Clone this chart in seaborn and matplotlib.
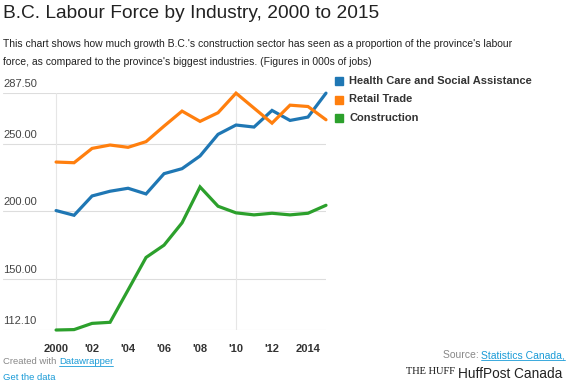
import numpy as np
import pandas as pd
import matplotlib
matplotlib.use("Agg")
import matplotlib.pyplot as plt
from matplotlib.patches import Rectangle
from matplotlib.lines import Line2D
import seaborn as sns

# Data (000s of jobs)
years = list(range(2000, 2016))
health_care = [200.5, 197.0, 211.3, 214.8, 217.0, 212.8, 227.8, 231.5,
               240.9, 256.9, 263.8, 262.3, 274.6, 267.2, 269.7, 287.4]
retail_trade = [236.4, 235.9, 246.5, 249.0, 247.3, 251.5, 263.0, 274.1,
                266.5, 272.9, 287.4, 276.3, 265.2, 278.5, 277.5, 267.7]
construction = [112.1, 112.4, 117.0, 117.8, 141.7, 165.8, 174.9, 191.4,
                218.0, 203.7, 198.8, 197.3, 198.5, 197.3, 198.5, 204.4]

series_names = ["Health Care and Social Assistance", "Retail Trade", "Construction"]
series_colors = ["#1f77b4", "#ff7f0e", "#2ca02c"]
y_ticks = [112.1, 150, 200, 250, 287.5]
y_tick_labels = ["112.10", "150.00", "200.00", "250.00", "287.50"]
x_ticks = [2000, 2002, 2004, 2006, 2008, 2010, 2012, 2014]
x_tick_labels = ["2000", "'02", "'04", "'06", "'08", "'10", "'12", "2014"]

df = pd.DataFrame({
    "year": years * 3,
    "jobs": health_care + retail_trade + construction,
    "industry": [series_names[0]] * 16 + [series_names[1]] * 16 + [series_names[2]] * 16,
})

sns.set_style("white")
plt.rcParams["font.family"] = ["Liberation Sans", "DejaVu Sans"]

W, H = 570, 381
fig = plt.figure(figsize=(W / 100, H / 100), dpi=100)
ax = fig.add_axes([3 / W, 1 - 330 / H, (326 - 3) / W, (330 - 93) / H])

sns.lineplot(data=df, x="year", y="jobs", hue="industry", hue_order=series_names,
             palette=series_colors, linewidth=2.3, legend=False, ax=ax)
for ln in ax.get_lines():
    ln.set_clip_on(False)
    ln.set_solid_joinstyle("miter")

ax.set_xlim(2000 - 53 / 17.97, 2015)
ax.set_ylim(112.1, 287.5)

# grid
for v in y_ticks:
    ax.axhline(v, color="#dddddd", lw=0.8, zorder=0)
for v in [2000, 2010]:
    ax.axvline(v, color="#e6e6e6", lw=0.8, zorder=0)

for s in ax.spines.values():
    s.set_visible(False)
ax.set_yticks([])
ax.set_xticks(x_ticks)
ax.set_xticklabels(x_tick_labels, fontsize=8, fontweight="bold", color="#333333")
ax.tick_params(axis="x", length=0, pad=10)
ax.set_xlabel("")
ax.set_ylabel("")

trans = ax.get_yaxis_transform()
for v, lab in zip(y_ticks, y_tick_labels):
    ax.annotate(lab, (0, v), xycoords=trans, xytext=(0, 3), textcoords="offset points",
                ha="left", va="bottom", fontsize=8, color="#444444")

# legend
for i, (name, c) in enumerate(zip(series_names, series_colors)):
    yc = 81 + i * 18.5
    fig.add_artist(Rectangle((335 / W, 1 - (yc + 4) / H), 8 / W, 8 / H,
                             transform=fig.transFigure, color=c))
    fig.text(349 / W, 1 - yc / H, name, fontsize=8, fontweight="bold",
             color="#333333", va="center", ha="left")

# title and description
fig.text(3 / W, 1 - 13 / H, "B.C. Labour Force by Industry, 2000 to 2015",
         fontsize=13.8, color="#222222", va="center", ha="left")
fig.text(3 / W, 1 - 44 / H,
         "This chart shows how much growth B.C.'s construction sector has seen as a proportion of the province's labour",
         fontsize=7.5, color="#222222", va="center", ha="left")
fig.text(3 / W, 1 - 62 / H,
         "force, as compared to the province's biggest industries. (Figures in 000s of jobs)",
         fontsize=7.5, color="#222222", va="center", ha="left")

# footer
link = "#1a9bd7"
grey = "#888888"
t1 = fig.text(3 / W, 1 - 362 / H, "Created with ", fontsize=6.8, color=grey, va="center")
fig.canvas.draw()
bb = t1.get_window_extent()
t2 = fig.text(bb.x1 / W, 1 - 362 / H, "Datawrapper", fontsize=6.8, color=link, va="center")
t3 = fig.text(3 / W, 1 - 377 / H, "Get the data", fontsize=6.8, color=link, va="center")
t4 = fig.text(565 / W, 1 - 355 / H, "Statistics Canada,", fontsize=7.5, color=link,
              va="center", ha="right")
fig.canvas.draw()
bb4 = t4.get_window_extent()
fig.text(bb4.x0 / W, 1 - 355 / H, "Source: ", fontsize=7.5, color=grey, va="center", ha="right")
for t in (t2, t3, t4):
    b = t.get_window_extent()
    fig.add_artist(Line2D([b.x0 / W, b.x1 / W], [(b.y0 + 0.5) / H] * 2,
                          transform=fig.transFigure, color=link, lw=0.6))

fig.text(406 / W, 1 - 372 / H, "THE HUFF", fontsize=7.5,
         family="Liberation Serif", color="#111111", va="center", ha="left")
fig.text(458 / W, 1 - 374 / H, "HuffPost Canada", fontsize=9.8, color="#222222",
         va="center", ha="left")

fig.savefig("out.png", dpi=100)
